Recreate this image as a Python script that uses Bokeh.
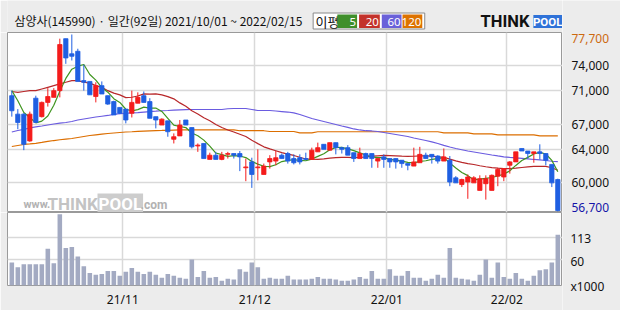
from bokeh.plotting import figure
from bokeh.layouts import column, row
from bokeh.models import Range1d, FixedTicker, Label, ColumnDataSource, Grid
from bokeh.core.properties import value
from bokeh.embed import file_html
from bokeh.resources import INLINE

title_text = "삼양사(145990) · 일간(92일) 2021/10/01 ~ 2022/02/15"

opens = [70400, 68200, 68200, 65000, 70100, 67900, 69600, 70200, 71000, 77200,
         75400, 75700, 72200, 72100, 70300, 71600, 70400, 69700, 69000, 68800,
         68300, 69500, 70400, 69700, 67900, 66900, 67400, 65200, 65600, 67500,
         66600, 64400, 64700, 62800, 63300, 62800, 63400, 63500, 63500, 61800,
         62500, 61800, 61000, 62500, 62600, 63300, 63500, 62900, 63000, 62900,
         62800, 63700, 64600, 63900, 64800, 64200, 64200, 63600, 62900, 63500,
         63500, 62600, 63100, 62900, 62900, 62700, 62300, 62000, 62400, 63300,
         63400, 63200, 62600, 62700, 60600, 59800, 60100, 60000, 59100, 59900,
         59100, 60800, 60700, 62100, 62500, 64100, 63800, 63500, 63700, 63500,
         62200, 60400]
highs = [71000, 68800, 68300, 68500, 70400, 69700, 71300, 71300, 77200, 77200,
         77700, 76000, 74100, 72100, 72000, 72100, 70400, 69800, 69000, 68800,
         71000, 70800, 70900, 70100, 67900, 67700, 67400, 65900, 67500, 67500,
         66600, 64700, 64700, 63600, 63700, 63700, 63700, 63500, 63800, 62900,
         63000, 64000, 62300, 63300, 63800, 63500, 63700, 63400, 63400, 63600,
         64200, 64800, 64600, 64800, 64800, 64300, 64500, 63600, 64200, 63600,
         63500, 62900, 63400, 62900, 62900, 62700, 62300, 64200, 64300, 63600,
         63400, 63300, 64100, 63200, 60800, 60500, 61000, 60800, 60900, 60900,
         61000, 61800, 61700, 62600, 63700, 64100, 63800, 63700, 64600, 63500,
         62200, 60500]
lows = [67900, 66400, 63900, 64900, 67200, 67800, 69100, 70200, 70200, 74200,
        74600, 72100, 71000, 70500, 69600, 70600, 69300, 68100, 68200, 67100,
        67800, 69500, 69600, 67700, 66500, 66900, 65500, 64700, 65600, 66900,
        64100, 63700, 62900, 62800, 62800, 62700, 62900, 62900, 61400, 60200,
        59400, 60300, 61000, 61700, 62100, 62900, 62300, 62200, 62200, 62700,
        62800, 63700, 64000, 63900, 63400, 63500, 63300, 62500, 62900, 62900,
        61800, 61800, 61800, 61800, 61700, 61800, 61500, 62000, 62400, 62900,
        62300, 62300, 62600, 59600, 60000, 59500, 58100, 60000, 59100, 58000,
        59100, 59600, 60200, 61100, 62500, 63800, 62900, 62400, 62800, 62100,
        59500, 56600]
closes = [68600, 67200, 64600, 68200, 67200, 69600, 70300, 71000, 76500, 74900,
          75100, 72100, 72000, 70500, 71600, 70600, 69400, 68100, 68300, 67500,
          69600, 70200, 69600, 67700, 67500, 67600, 66100, 65500, 66900, 66900,
          64300, 64500, 62900, 63300, 62800, 63300, 63500, 63300, 63100, 61900,
          61000, 61900, 62000, 62900, 63000, 62900, 62600, 62400, 62500, 62800,
          63900, 64200, 64000, 64800, 64200, 64000, 63300, 62900, 63500, 62900,
          62900, 62900, 62800, 62500, 62500, 62300, 62100, 62500, 63400, 62900,
          63100, 62600, 63100, 60100, 60000, 60400, 60700, 60600, 60500, 60500,
          60900, 61600, 61700, 62500, 63700, 63800, 63500, 63700, 63500, 62700,
          60000, 56700]
volumes = [54, 43, 50, 50, 50, 50, 86, 52, 167, 88,
           90, 68, 45, 29, 25, 27, 34, 34, 23, 32,
           41, 32, 27, 32, 25, 18, 27, 23, 18, 16,
           61, 20, 34, 18, 20, 11, 16, 14, 38, 32,
           54, 43, 16, 18, 16, 16, 23, 14, 14, 14,
           16, 20, 16, 16, 14, 11, 11, 14, 20, 16,
           34, 16, 16, 38, 23, 23, 34, 18, 18, 11,
           16, 25, 18, 88, 18, 16, 14, 11, 25, 61,
           18, 54, 20, 16, 29, 16, 11, 23, 36, 38,
           54, 119]
ma5 = [71000, 69800, 68400, 67800, 67160, 67360, 67980, 69260, 70920, 72460,
       73560, 73920, 74120, 72920, 72260, 71360, 70820, 70040, 69600, 68780,
       68580, 68740, 69040, 68920, 68920, 68520, 67700, 66880, 66720, 66600,
       65940, 65620, 65100, 64380, 63560, 63360, 63160, 63240, 63200, 63020,
       62560, 62240, 61980, 61940, 62160, 62540, 62680, 62760, 62680, 62640,
       62840, 63160, 63480, 63940, 64220, 64240, 64060, 63840, 63580, 63320,
       63100, 63020, 63000, 62800, 62720, 62600, 62440, 62380, 62560, 62640,
       62800, 62900, 63020, 62360, 61780, 61240, 60860, 60360, 60440, 60540,
       60640, 60820, 61040, 61440, 62080, 62660, 63040, 63440, 63640, 63440,
       62680, 61320]
ma20 = [70900, 70800, 70900, 71000, 71000, 71200, 71400, 71600, 71800, 72000,
        72200, 72200, 72000, 71900, 71600, 71400, 71000, 70700, 70500, 70165,
        70215, 70365, 70615, 70590, 70605, 70505, 70295, 70020, 69540, 69140,
        68600, 68220, 67765, 67405, 66965, 66600, 66305, 66065, 65805, 65525,
        65095, 64680, 64300, 64060, 63835, 63600, 63425, 63270, 63050, 62845,
        62825, 62810, 62865, 62940, 63010, 63045, 63035, 63015, 63035, 63085,
        63180, 63230, 63270, 63250, 63225, 63195, 63170, 63175, 63220, 63225,
        63185, 63105, 63060, 62825, 62615, 62435, 62305, 62190, 62040, 61920,
        61820, 61755, 61700, 61700, 61760, 61835, 61905, 61965, 61970, 61960,
        61805, 61510]
ma60 = [66070, 66250, 66370, 66550, 66670, 66780, 66900, 67020, 67120, 67200,
        67320, 67500, 67620, 67740, 67860, 67950, 68040, 68160, 68250, 68300,
        68350, 68390, 68450, 68510, 68550, 68600, 68630, 68670, 68710, 68730,
        68750, 68750, 68750, 68750, 68750, 68750, 68840, 68870, 68870, 68870,
        68750, 68630, 68630, 68630, 68570, 68510, 68450, 68340, 68160, 67920,
        67680, 67500, 67320, 67140, 66960, 66780, 66610, 66430, 66310, 66220,
        66190, 66130, 66010, 65890, 65770, 65650, 65530, 65350, 65200, 65050,
        64880, 64700, 64480, 64280, 64100, 63950, 63800, 63680, 63560, 63440,
        63320, 63210, 63110, 63030, 62970, 62910, 62850, 62790, 62750, 62670,
        62580, 62530]
ma120 = [64340, 64460, 64580, 64640, 64720, 64820, 64940, 65050, 65140, 65220,
         65290, 65410, 65530, 65650, 65730, 65810, 65890, 65950, 66010, 66070,
         66100, 66140, 66180, 66210, 66240, 66250, 66270, 66300, 66310, 66320,
         66330, 66330, 66330, 66330, 66330, 66330, 66330, 66330, 66220, 66220,
         66220, 66220, 66220, 66130, 66130, 66130, 66130, 66130, 65970, 65970,
         65970, 66100, 66100, 66100, 66100, 66100, 66100, 66100, 66100, 66100,
         66100, 66100, 66100, 66100, 66100, 66100, 66100, 66100, 66100, 66100,
         66100, 66100, 65970, 65970, 65970, 65970, 65970, 65850, 65850, 65850,
         65850, 65730, 65730, 65730, 65730, 65730, 65730, 65730, 65610, 65610,
         65610, 65610]

month_start_index = [19, 41, 63, 83]
month_labels = ["21/11", "21/12", "22/01", "22/02"]
price_ticks = [74000, 71000, 67000, 64000, 60000]
price_high_label = 77700
price_last_label = 56700
volume_ticks = [60, 113]
volume_unit = "x1000"
ma_names = ["5", "20", "60", "120"]
ma_label = "이평"

# ---------------- styles ----------------
BG = "#ececec"
FRAME = "#9a9a9a"
GRID = "#d9d9d9"
UP = "#f41c1c"
DOWN = "#1f5fe2"
VOLC = "#a3aac2"
MA_COLORS = ["#3f951f", "#b8282a", "#6a5be0", "#dc6e00"]
LEG_COLORS = ["#3f8f2b", "#c3322b", "#6a61d9", "#dd7200"]
KFONT = "Noto Sans CJK KR"
NFONT = "Noto Sans"

n = len(closes)
xs = list(range(n))
colors = [UP if c > o else DOWN for o, c in zip(opens, closes)]
src = ColumnDataSource(dict(
    x=xs, h=highs, l=lows,
    top=[max(o, c) for o, c in zip(opens, closes)],
    bot=[min(o, c) for o, c in zip(opens, closes)],
    color=colors, vol=volumes, ma5=ma5, ma20=ma20, ma60=ma60, ma120=ma120))

xr = Range1d(-0.72, 91.78)
month_ticks = [i - 0.5 for i in month_start_index]
PRICE_TOP, PRICE_PER_PX = 77938, 119.3
VOL_PER_PX = 2.25
HEAD_H = 32


def bare(fig):
    fig.center = [r for r in fig.center if not isinstance(r, Grid)]


def add_grids(fig, xticks, yticks):
    for dim, t in ((0, xticks), (1, yticks)):
        fig.add_layout(Grid(dimension=dim, ticker=FixedTicker(ticks=t),
                            grid_line_color=GRID, grid_line_width=1.5))


common = dict(output_backend="svg", toolbar_location=None, title=None)

# ---------------- header ----------------
hd = figure(width=562, height=HEAD_H, x_range=Range1d(0, 562), y_range=Range1d(HEAD_H, 0),
            x_axis_location=None, y_axis_location=None, min_border=0,
            background_fill_color=BG, border_fill_color=BG, outline_line_color=None, **common)
bare(hd)
hd.text(x=[7], y=[20], text=[title_text], text_font=value(KFONT), text_font_size="12px",
        text_baseline="middle", text_color="#111111")
hd.quad(left=[309.5], right=[422.5], top=[12.5], bottom=[28.5],
        fill_color="white", line_color="#8a8a8a", line_width=1)
hd.text(x=[312], y=[20.5], text=[ma_label], text_font=value(KFONT), text_font_size="13px",
        text_baseline="middle", text_color="#111111")
box_l = [334, 356, 379, 400]
box_r = [354, 377, 399, 420]
hd.quad(left=box_l, right=box_r, top=[14] * 4, bottom=[27.5] * 4,
        fill_color=LEG_COLORS, line_color=None)
hd.text(x=[r - 1 for r in box_r], y=[21] * 4, text=ma_names, text_font=value(NFONT),
        text_font_size="11.5px", text_align="right", text_baseline="middle", text_color="white")
# logo
hd.text(x=[479], y=[21], text=["THINK"], text_font=value("Roboto"), text_font_style="bold",
        text_font_size="16.5px", text_baseline="middle", text_color="#111111")
hd.quad(left=[532.5], right=[561.5], top=[14.5], bottom=[27.5], fill_color="#2f72d8", line_color=None)
hd.text(x=[547], y=[21.5], text=["POOL"], text_font=value("Roboto"), text_font_style="bold",
        text_font_size="11.5px", text_align="center", text_baseline="middle", text_color="white")

# ---------------- price panel ----------------
p = figure(width=562, height=180, x_range=xr,
           y_range=Range1d(PRICE_TOP - 180 * PRICE_PER_PX, PRICE_TOP),
           x_axis_location=None, y_axis_location=None,
           min_border_left=7, min_border_right=0, min_border_top=0, min_border_bottom=0,
           background_fill_color="white", border_fill_color=BG,
           outline_line_color=FRAME, outline_line_width=1, **common)
bare(p)
add_grids(p, month_ticks, price_ticks)

for key, col in zip(["ma120", "ma60", "ma20", "ma5"], MA_COLORS[::-1]):
    p.line("x", key, source=src, line_color=col, line_width=1.2)
p.segment(x0="x", y0="h", x1="x", y1="l", source=src, line_color="color", line_width=1)
p.vbar(x="x", width=0.72, top="top", bottom="bot", source=src,
       fill_color="color", line_color="color", line_width=0.8)


def wm(text, x, y, **kw):
    kw.setdefault("text_font", "Roboto")
    kw.setdefault("text_baseline", "middle")
    p.add_layout(Label(x=x, y=y, x_units="screen", y_units="screen", text=text, **kw))


wm("www.", 16, 8, text_font_size="11px", text_color="#b2b2b2", text_font_style="bold")
wm("THINK", 40, 9, text_font_size="17px", text_font_style="bold", text_color="#c3c3c3")
wm("POOL", 90, 9, text_font_size="17px", text_font_style="bold", text_color="white",
   background_fill_color="#cdcdcd", padding=dict(left=1, right=1, top=0, bottom=0))
wm(".com", 133, 8, text_font_size="12px", text_color="#b2b2b2", text_font_style="bold")

# ---------------- volume panel ----------------
v = figure(width=562, height=98, x_range=xr, y_range=Range1d(0, 76 * VOL_PER_PX),
           x_axis_location="below", y_axis_location=None,
           min_border_left=7, min_border_right=0, min_border_top=0, min_border_bottom=22,
           background_fill_color="white", border_fill_color=BG,
           outline_line_color=FRAME, outline_line_width=1, **common)
bare(v)
add_grids(v, month_ticks, volume_ticks)
v.vbar(x="x", width=0.76, top="vol", bottom=0, source=src, fill_color=VOLC, line_color=None)
ax = v.xaxis[0]
ax.ticker = FixedTicker(ticks=month_ticks)
ax.major_label_overrides = {t: s for t, s in zip(month_ticks, month_labels)}
ax.major_tick_line_color = None
ax.minor_tick_line_color = None
ax.major_tick_out = 0
ax.major_tick_in = 0
ax.axis_line_color = None
ax.major_label_standoff = 5
ax.major_label_text_font = NFONT
ax.major_label_text_font_size = "12px"
ax.major_label_text_color = "#111111"

# ---------------- right-hand value labels (full height column) ----------------
lf = figure(width=58, height=310, x_range=Range1d(0, 58),
            y_range=Range1d(PRICE_TOP - 278 * PRICE_PER_PX, PRICE_TOP + HEAD_H * PRICE_PER_PX),
            extra_y_ranges={"vol": Range1d(-22 * VOL_PER_PX, 288 * VOL_PER_PX)},
            x_axis_location=None, y_axis_location=None, min_border=0,
            background_fill_color=BG, border_fill_color=BG, outline_line_color=None, **common)
bare(lf)
tkw = dict(text_font=value(NFONT), text_font_size="12px", text_baseline="middle")
lf.text(x=[9] * len(price_ticks), y=price_ticks, text=[f"{t:,}" for t in price_ticks],
        text_color="#111111", **tkw)
lf.text(x=[9], y=[price_high_label], text=[f"{price_high_label:,}"], y_offset=4,
        text_color="#cc6a10", **tkw)
lf.text(x=[9], y=[price_last_label], text=[f"{price_last_label:,}"], y_offset=-3,
        text_color="#1414a8", **tkw)
lf.text(x=[8] * len(volume_ticks), y=volume_ticks, text=[str(t) for t in volume_ticks],
        y_range_name="vol", text_color="#111111", **tkw)
lf.text(x=[8], y=[0], text=[volume_unit], y_offset=-2, y_range_name="vol",
        text_color="#111111", **tkw)

layout = row(column(hd, p, v), lf)
open("out.html", "w").write(file_html(layout, INLINE))
